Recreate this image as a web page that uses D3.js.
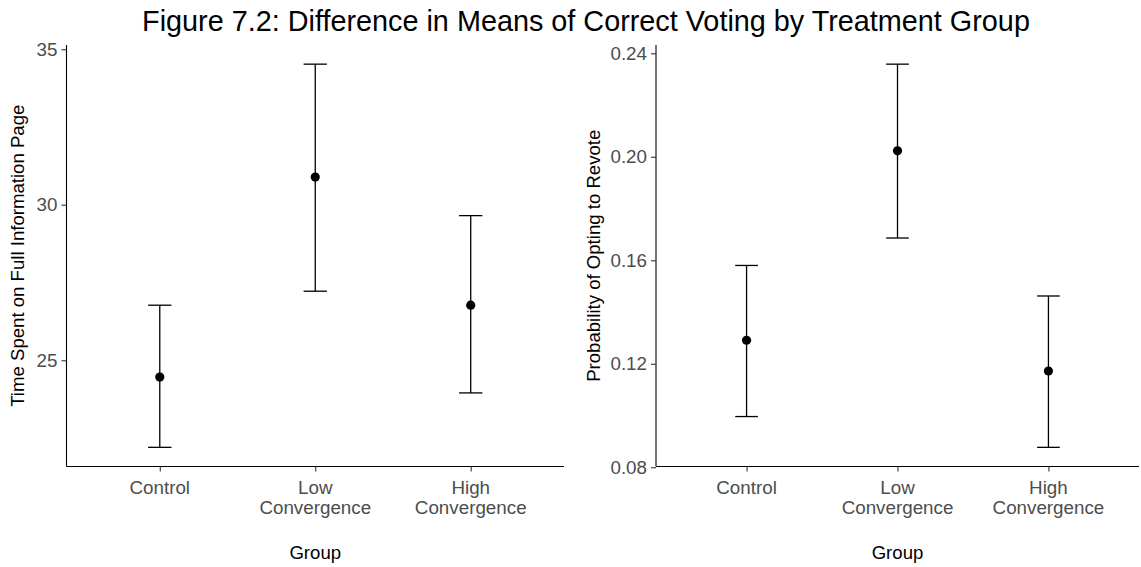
<!DOCTYPE html>
<html>
<head>
<meta charset="utf-8">
<script src="https://cdn.jsdelivr.net/npm/d3@7"></script>
<style>
  html, body { margin: 0; padding: 0; background: #fff; }
  svg { display: block; font-family: "Liberation Sans", Arial, sans-serif; }
</style>
</head>
<body>
<svg id="chart" width="1141" height="567"></svg>
<script>
// Treatment groups (x-axis categories)
const groups = ["Control", "Low Convergence", "High Convergence"];
const groupLabels = [["Control"], ["Low", "Convergence"], ["High", "Convergence"]];

// Left panel: time spent on full information page (mean with CI)
const timeMean  = [24.46, 30.89, 26.77];
const timeLower = [22.20, 27.22, 23.95];
const timeUpper = [26.77, 34.52, 29.65];
const timeTicks = [25, 30, 35];

// Right panel: probability of opting to revote (mean with CI)
const revoteMean  = [0.1291, 0.2023, 0.1172];
const revoteLower = [0.0996, 0.1686, 0.0877];
const revoteUpper = [0.1580, 0.2358, 0.1462];
const revoteTicks = [0.08, 0.12, 0.16, 0.20, 0.24];

const svg = d3.select("#chart");
const plotTop = 45, plotBottom = 466.5;

svg.append("text")
  .attr("x", 586).attr("y", 31)
  .attr("text-anchor", "middle")
  .attr("font-size", 28.8)
  .attr("fill", "#000")
  .text("Figure 7.2: Difference in Means of Correct Voting by Treatment Group");

function panel(opts) {
  const g = svg.append("g");
  const x = d3.scalePoint().domain(groups).range([opts.x0, opts.x1]).padding(0.6);
  const lo = d3.min(opts.lower), hi = d3.max(opts.upper);
  const pad = (hi - lo) * 0.05;
  const y = d3.scaleLinear().domain([lo - pad, hi + pad]).range([plotBottom, plotTop]);

  // y axis
  const yAxis = g.append("g").attr("transform", `translate(${opts.x0},0)`)
    .call(d3.axisLeft(y).tickValues(opts.ticks).tickFormat(opts.fmt).tickSize(5).tickPadding(4));
  // x axis
  const xAxis = g.append("g").attr("transform", `translate(0,${plotBottom})`)
    .call(d3.axisBottom(x).tickSize(5).tickFormat(""));
  [yAxis, xAxis].forEach(a => {
    a.select(".domain").attr("stroke", "#000").attr("stroke-width", 1.1);
    a.selectAll(".tick line").attr("stroke", "#333").attr("stroke-width", 1.1);
    a.selectAll(".tick text").attr("fill", "#4d4d4d").attr("font-size", 18.8)
      .attr("font-family", "Liberation Sans, Arial, sans-serif");
  });
  yAxis.select(".domain").attr("d", `M0,${plotBottom}V${plotTop}`);
  xAxis.select(".domain").attr("d", `M${opts.x0},0H${opts.x1}`);

  // multi-line category labels
  groups.forEach((gName, i) => {
    const t = g.append("text")
      .attr("x", x(gName)).attr("y", plotBottom + 27)
      .attr("text-anchor", "middle")
      .attr("font-size", 18.8).attr("fill", "#4d4d4d");
    groupLabels[i].forEach((line, j) => {
      t.append("tspan").attr("x", x(gName)).attr("dy", j === 0 ? 0 : 20.5).text(line);
    });
  });

  // axis titles
  g.append("text")
    .attr("x", (opts.x0 + opts.x1) / 2).attr("y", 559)
    .attr("text-anchor", "middle").attr("font-size", 18.6).attr("fill", "#000")
    .text("Group");
  g.append("text")
    .attr("transform", `translate(${opts.titleX},${(plotTop + plotBottom) / 2}) rotate(-90)`)
    .attr("text-anchor", "middle").attr("font-size", 18.6).attr("fill", "#000")
    .text(opts.yTitle);

  // error bars
  const capHalf = x.step() * 0.075;
  const bars = g.append("g").attr("stroke", "#000").attr("stroke-width", 1.3).attr("fill", "none");
  groups.forEach((gName, i) => {
    const cx = x(gName);
    bars.append("line").attr("x1", cx).attr("x2", cx)
      .attr("y1", y(opts.lower[i])).attr("y2", y(opts.upper[i]));
    bars.append("line").attr("x1", cx - capHalf).attr("x2", cx + capHalf)
      .attr("y1", y(opts.upper[i])).attr("y2", y(opts.upper[i]));
    bars.append("line").attr("x1", cx - capHalf).attr("x2", cx + capHalf)
      .attr("y1", y(opts.lower[i])).attr("y2", y(opts.lower[i]));
  });

  // means
  g.append("g").selectAll("circle").data(opts.mean).join("circle")
    .attr("cx", (d, i) => x(groups[i]))
    .attr("cy", d => y(d))
    .attr("r", 4.6)
    .attr("fill", "#000");
}

panel({
  x0: 66.5, x1: 564, titleX: 24,
  mean: timeMean, lower: timeLower, upper: timeUpper,
  ticks: timeTicks, fmt: d3.format("d"),
  yTitle: "Time Spent on Full Information Page"
});

panel({
  x0: 656, x1: 1139, titleX: 600,
  mean: revoteMean, lower: revoteLower, upper: revoteUpper,
  ticks: revoteTicks, fmt: d3.format(".2f"),
  yTitle: "Probability of Opting to Revote"
});
</script>
</body>
</html>
